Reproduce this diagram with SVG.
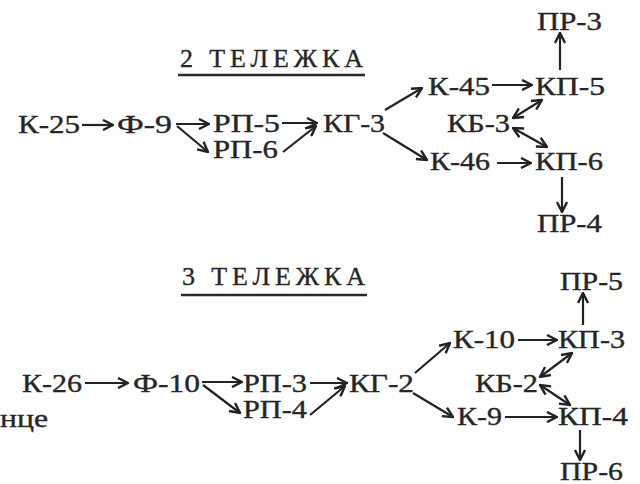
<svg xmlns="http://www.w3.org/2000/svg" width="640" height="484" viewBox="0 0 640 484">
<defs>
<marker id="ah" viewBox="0 0 12 12" refX="11" refY="6" markerWidth="12" markerHeight="12" markerUnits="userSpaceOnUse" orient="auto-start-reverse">
<path d="M1,1 L11,6 L1,11" fill="none" stroke="#222" stroke-width="2.4" stroke-linejoin="miter"/>
</marker>
<style>
text{font-family:"Liberation Serif","Times New Roman",serif;font-size:25px;fill:#262626;stroke:#262626;stroke-width:0.35}
.t{font-size:26px}
.c line{stroke:#222;stroke-width:2.2;marker-end:url(#ah)}
.c line.b{marker-start:url(#ah)}
.u{stroke:#2a2a2a;stroke-width:2.4}
</style>
</defs>
<rect width="640" height="484" fill="#fff"/>

<g id="title2"><text class="t" x="180" y="67" textLength="183" lengthAdjust="spacing">2  ТЕЛЕЖКА</text><line class="u" x1="178" y1="75" x2="365" y2="75"/></g>
<g id="k25"><text x="18" y="133" textLength="62" lengthAdjust="spacingAndGlyphs">К-25</text></g>
<g id="f9"><text x="117" y="133" textLength="55" lengthAdjust="spacingAndGlyphs">Ф-9</text></g>
<g id="rp5"><text x="213" y="132" textLength="67" lengthAdjust="spacingAndGlyphs">РП-5</text></g>
<g id="rp6"><text x="213" y="158" textLength="65" lengthAdjust="spacingAndGlyphs">РП-6</text></g>
<g id="kg3"><text x="323" y="132" textLength="62" lengthAdjust="spacingAndGlyphs">КГ-3</text></g>
<g id="k45"><text x="428" y="95" textLength="62" lengthAdjust="spacingAndGlyphs">К-45</text></g>
<g id="kp5"><text x="535" y="95" textLength="70" lengthAdjust="spacingAndGlyphs">КП-5</text></g>
<g id="pr3"><text x="537" y="30" textLength="65" lengthAdjust="spacingAndGlyphs">ПР-3</text></g>
<g id="kb3"><text x="447" y="132" textLength="63" lengthAdjust="spacingAndGlyphs">КБ-3</text></g>
<g id="k46"><text x="430" y="170" textLength="60" lengthAdjust="spacingAndGlyphs">К-46</text></g>
<g id="kp6"><text x="535" y="170" textLength="68" lengthAdjust="spacingAndGlyphs">КП-6</text></g>
<g id="pr4"><text x="537" y="232" textLength="65" lengthAdjust="spacingAndGlyphs">ПР-4</text></g>

<g id="title3"><text class="t" x="182" y="285" textLength="183" lengthAdjust="spacing">3  ТЕЛЕЖКА</text><line class="u" x1="181" y1="295" x2="367" y2="295"/></g>
<g id="k26"><text x="22" y="392" textLength="60" lengthAdjust="spacingAndGlyphs">К-26</text></g>
<g id="f10"><text x="133" y="392" textLength="67" lengthAdjust="spacingAndGlyphs">Ф-10</text></g>
<g id="rp3"><text x="243" y="392" textLength="64" lengthAdjust="spacingAndGlyphs">РП-3</text></g>
<g id="rp4"><text x="243" y="418" textLength="64" lengthAdjust="spacingAndGlyphs">РП-4</text></g>
<g id="kg2"><text x="349" y="392" textLength="65" lengthAdjust="spacingAndGlyphs">КГ-2</text></g>
<g id="k10"><text x="453" y="348" textLength="62" lengthAdjust="spacingAndGlyphs">К-10</text></g>
<g id="kp3"><text x="558" y="348" textLength="67" lengthAdjust="spacingAndGlyphs">КП-3</text></g>
<g id="pr5"><text x="560" y="290" textLength="63" lengthAdjust="spacingAndGlyphs">ПР-5</text></g>
<g id="kb2"><text x="475" y="392" textLength="63" lengthAdjust="spacingAndGlyphs">КБ-2</text></g>
<g id="k9"><text x="457" y="425" textLength="45" lengthAdjust="spacingAndGlyphs">К-9</text></g>
<g id="kp4"><text x="558" y="425" textLength="70" lengthAdjust="spacingAndGlyphs">КП-4</text></g>
<g id="pr6"><text x="560" y="480" textLength="63" lengthAdjust="spacingAndGlyphs">ПР-6</text></g>
<g id="frag"><text x="0" y="427" textLength="48" lengthAdjust="spacingAndGlyphs">нце</text></g>

<g id="connectors" class="c">
<line x1="82" y1="125" x2="113" y2="125"/>
<line x1="176" y1="124" x2="209" y2="124"/>
<line x1="177" y1="126" x2="208" y2="152"/>
<line x1="282" y1="123" x2="317" y2="123"/>
<line x1="283" y1="152" x2="316" y2="126"/>
<line x1="385" y1="110" x2="422" y2="88"/>
<line x1="383" y1="133" x2="427" y2="160"/>
<line x1="492" y1="85" x2="532" y2="85"/>
<line x1="560" y1="70" x2="560" y2="33"/>
<line class="b" x1="513" y1="118" x2="542" y2="100"/>
<line class="b" x1="513" y1="128" x2="547" y2="147"/>
<line x1="497" y1="163" x2="531" y2="163"/>
<line x1="562" y1="177" x2="562" y2="212"/>

<line x1="85" y1="383" x2="128" y2="383"/>
<line x1="202" y1="382" x2="242" y2="382"/>
<line x1="203" y1="385" x2="240" y2="413"/>
<line x1="310" y1="383" x2="347" y2="383"/>
<line x1="310" y1="415" x2="345" y2="386"/>
<line x1="415" y1="373" x2="450" y2="343"/>
<line x1="413" y1="393" x2="453" y2="417"/>
<line x1="518" y1="340" x2="557" y2="340"/>
<line x1="583" y1="325" x2="583" y2="293"/>
<line class="b" x1="540" y1="377" x2="572" y2="353"/>
<line class="b" x1="540" y1="385" x2="570" y2="405"/>
<line x1="505" y1="417" x2="557" y2="417"/>
<line x1="580" y1="430" x2="580" y2="460"/>
</g>
</svg>
